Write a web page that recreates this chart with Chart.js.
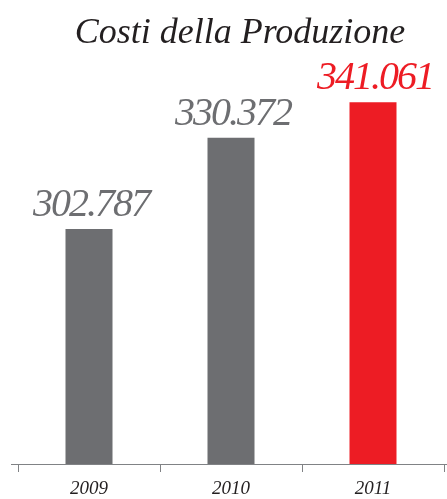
<!DOCTYPE html>
<html lang="it">
<head>
<meta charset="UTF-8">
<title>Costi della Produzione</title>
<script src="https://cdn.jsdelivr.net/npm/chart.js"></script>
<style>
  html, body { margin: 0; padding: 0; background: #fff; }
  .wrap { width: 447px; height: 499px; }
</style>
</head>
<body>
<div class="wrap"><canvas id="costi"></canvas></div>
<script>
  const anni = ['2009', '2010', '2011'];
  const costi = [302787, 330372, 341061];
  const coloriBarre = ['#6d6e71', '#6d6e71', '#ed1c24'];
  const titolo = 'Costi della Produzione';

  // 302787 -> "302.787"
  function formatta(v) {
    return String(v).replace(/\B(?=(\d{3})+(?!\d))/g, '.');
  }

  const decorazioni = {
    id: 'decorazioni',
    afterDraw(chart) {
      const ctx = chart.ctx;
      const area = chart.chartArea;
      const meta = chart.getDatasetMeta(0);
      ctx.save();

      // titolo
      ctx.fillStyle = '#231f20';
      ctx.font = 'italic 36px "Liberation Serif"';
      ctx.textAlign = 'center';
      ctx.textBaseline = 'alphabetic';
      ctx.fillText(titolo, (area.left + area.right) / 2 + 9, 43);

      // valori sopra le barre
      ctx.font = 'italic 40px "Liberation Serif"';
      ctx.letterSpacing = '-2px';
      meta.data.forEach((bar, i) => {
        ctx.fillStyle = coloriBarre[i];
        ctx.fillText(formatta(costi[i]), bar.x + 2, bar.y - 13);
      });
      ctx.letterSpacing = '0px';

      // linea dell'asse
      const y = chart.scales.x.top + 0.5;
      ctx.strokeStyle = '#808285';
      ctx.lineWidth = 1;
      ctx.beginPath();
      ctx.moveTo(area.left - 7, y);
      ctx.lineTo(chart.width, y);
      ctx.stroke();
      ctx.restore();
    }
  };

  new Chart(document.getElementById('costi'), {
    type: 'bar',
    data: {
      labels: anni,
      datasets: [{
        data: costi,
        backgroundColor: coloriBarre,
        borderWidth: 0,
        categoryPercentage: 1,
        barPercentage: 0.331
      }]
    },
    options: {
      responsive: true,
      maintainAspectRatio: false,
      animation: false,
      layout: { padding: { left: 18, right: 3, top: 60, bottom: 0 } },
      plugins: {
        legend: { display: false },
        tooltip: { enabled: false }
      },
      scales: {
        x: {
          afterFit(scale) { scale.height = 35; },
          border: { display: false },
          grid: {
            drawOnChartArea: false,
            drawTicks: true,
            tickLength: 8,
            color: '#808285',
            offset: true
          },
          ticks: {
            color: '#231f20',
            padding: 6,
            font: { family: 'Liberation Serif', style: 'italic', size: 19 }
          }
        },
        y: {
          display: false,
          min: 231760,
          max: 353850
        }
      }
    },
    plugins: [decorazioni]
  });
</script>
</body>
</html>
